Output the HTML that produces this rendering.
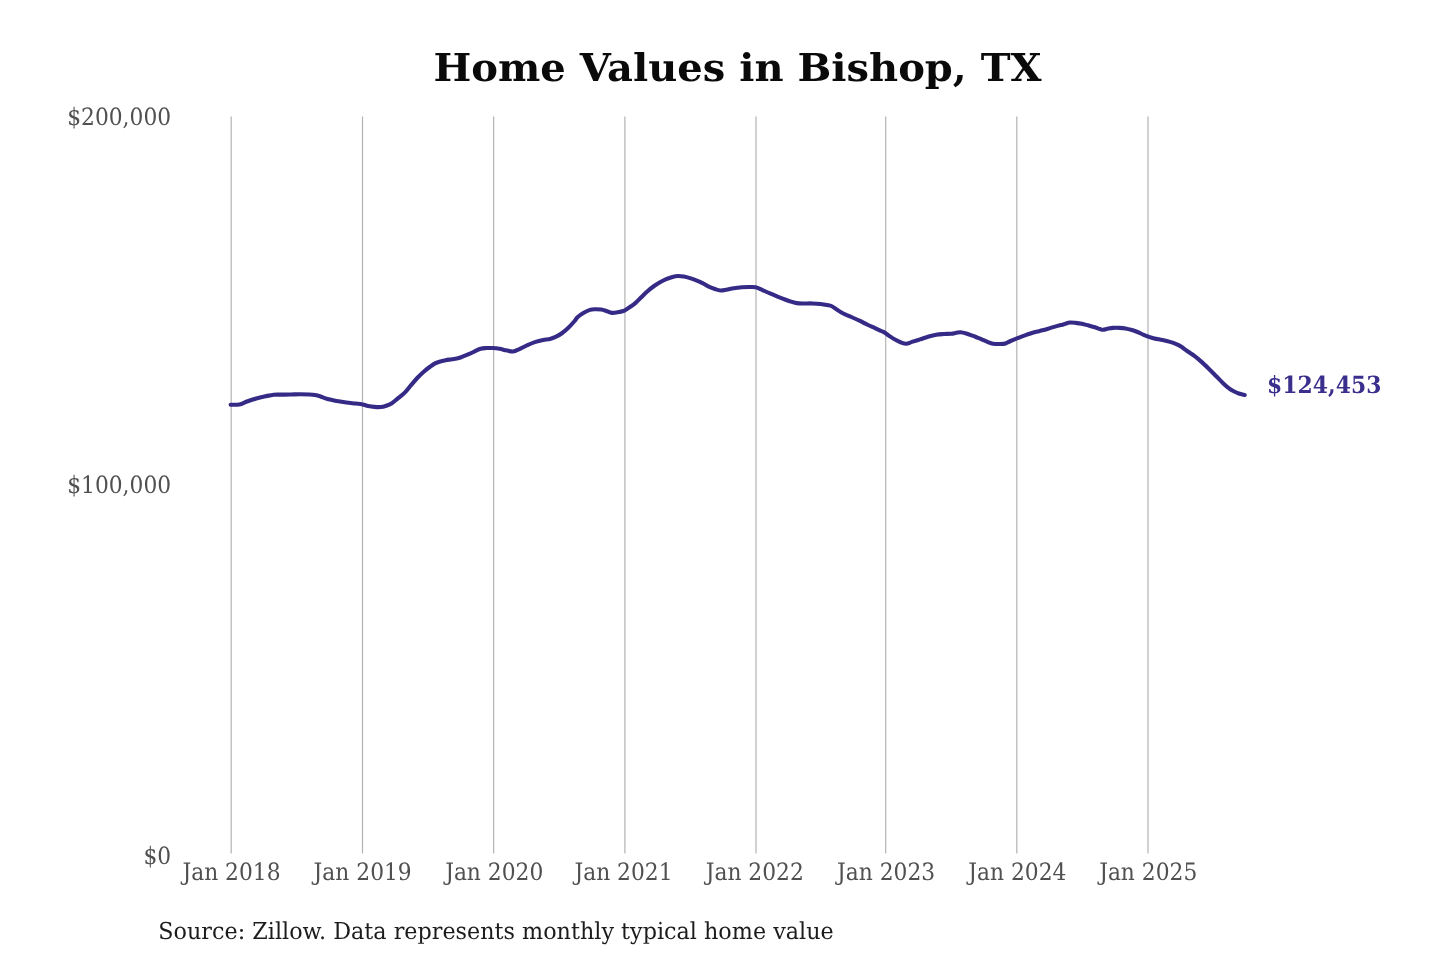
<!DOCTYPE html>
<html lang="en">
<head>
<meta charset="utf-8">
<title>Home Values in Bishop, TX</title>
<style>
html,body{margin:0;padding:0;background:#fff;}
body{width:1440px;height:960px;overflow:hidden;}
svg{display:block;will-change:transform;}
text{font-family:"DejaVu Serif","Liberation Serif",serif;text-rendering:geometricPrecision;}
.grid line{stroke:#b0b0b0;stroke-width:1.15;}
.tick text{font-size:23.9px;fill:#505050;}
.title{font-size:38.3px;font-weight:bold;fill:#0a0a0a;}
.src{font-size:23.3px;fill:#1c1c1c;}
.val{font-size:23.7px;font-weight:bold;fill:#3a2f8c;}
</style>
</head>
<body>
<svg width="1440" height="960" viewBox="0 0 1440 960">
<rect width="1440" height="960" fill="#ffffff"/>
<g class="grid">
<line x1="231.20" y1="116.6" x2="231.20" y2="853.5" />
<line x1="362.50" y1="116.6" x2="362.50" y2="853.5" />
<line x1="493.65" y1="116.6" x2="493.65" y2="853.5" />
<line x1="624.90" y1="116.6" x2="624.90" y2="853.5" />
<line x1="756.00" y1="116.6" x2="756.00" y2="853.5" />
<line x1="885.70" y1="116.6" x2="885.70" y2="853.5" />
<line x1="1016.80" y1="116.6" x2="1016.80" y2="853.5" />
<line x1="1148.00" y1="116.6" x2="1148.00" y2="853.5" />
</g>
<g class="tick">
<text transform="translate(171.10,124.65) scale(0.9117,1)" text-anchor="end">$200,000</text>
<text transform="translate(171.10,492.65) scale(0.9117,1)" text-anchor="end">$100,000</text>
<text transform="translate(171.20,863.50) scale(0.9117,1)" text-anchor="end">$0</text>
<text transform="translate(231.50,879.65) scale(0.9117,1)" text-anchor="middle">Jan 2018</text>
<text transform="translate(362.65,879.65) scale(0.9117,1)" text-anchor="middle">Jan 2019</text>
<text transform="translate(494.20,879.65) scale(0.9117,1)" text-anchor="middle">Jan 2020</text>
<text transform="translate(623.50,879.65) scale(0.9117,1)" text-anchor="middle">Jan 2021</text>
<text transform="translate(754.75,879.65) scale(0.9117,1)" text-anchor="middle">Jan 2022</text>
<text transform="translate(886.10,879.65) scale(0.9117,1)" text-anchor="middle">Jan 2023</text>
<text transform="translate(1017.35,879.65) scale(0.9117,1)" text-anchor="middle">Jan 2024</text>
<text transform="translate(1148.20,879.65) scale(0.9117,1)" text-anchor="middle">Jan 2025</text>
</g>
<text class="title" transform="translate(737.50,80.80) scale(1.045,1)" text-anchor="middle">Home Values in Bishop, TX</text>
<path transform="translate(0,0.65)" d="M230.60,404.06 C232.07,404.01 236.68,404.28 239.40,403.75 C242.12,403.22 244.09,401.89 246.90,400.90 C249.71,399.91 253.13,398.68 256.25,397.80 C259.37,396.92 262.68,396.22 265.60,395.60 C268.52,394.98 271.14,394.33 273.75,394.06 C276.36,393.79 278.44,394.01 281.25,393.98 C284.06,393.95 287.48,393.96 290.60,393.90 C293.73,393.84 296.87,393.60 300.00,393.60 C303.13,393.60 306.90,393.77 309.40,393.90 C311.90,394.03 313.23,394.12 315.00,394.40 C316.77,394.68 317.92,394.93 320.00,395.60 C322.08,396.27 324.68,397.60 327.50,398.40 C330.32,399.20 333.77,399.82 336.90,400.40 C340.02,400.98 343.13,401.48 346.25,401.90 C349.37,402.32 352.89,402.59 355.60,402.90 C358.31,403.21 360.42,403.35 362.50,403.75 C364.58,404.15 366.12,404.88 368.10,405.30 C370.08,405.72 372.32,406.07 374.40,406.25 C376.48,406.43 378.73,406.56 380.60,406.40 C382.47,406.24 383.72,405.95 385.60,405.30 C387.48,404.65 389.82,403.80 391.90,402.50 C393.98,401.20 395.92,399.30 398.10,397.50 C400.28,395.70 402.81,393.91 405.00,391.70 C407.19,389.49 409.17,386.68 411.25,384.25 C413.33,381.82 415.42,379.29 417.50,377.10 C419.58,374.91 421.67,372.93 423.75,371.10 C425.83,369.27 428.12,367.50 430.00,366.10 C431.88,364.70 433.43,363.53 435.00,362.70 C436.57,361.87 437.63,361.62 439.40,361.10 C441.17,360.58 443.52,360.02 445.60,359.60 C447.68,359.18 449.71,358.97 451.90,358.60 C454.09,358.23 456.67,357.97 458.75,357.40 C460.83,356.83 462.42,355.98 464.40,355.20 C466.38,354.42 468.73,353.53 470.60,352.70 C472.47,351.87 473.93,350.98 475.60,350.20 C477.27,349.42 478.83,348.47 480.60,348.00 C482.38,347.53 484.27,347.50 486.25,347.40 C488.23,347.30 490.31,347.28 492.50,347.40 C494.69,347.52 497.11,347.72 499.40,348.10 C501.69,348.48 503.97,349.23 506.25,349.70 C508.53,350.17 510.91,351.12 513.10,350.90 C515.29,350.68 517.00,349.48 519.40,348.40 C521.80,347.32 524.80,345.59 527.50,344.40 C530.20,343.21 533.00,342.08 535.60,341.25 C538.20,340.42 540.70,339.89 543.10,339.40 C545.50,338.91 547.92,338.82 550.00,338.30 C552.08,337.78 553.62,337.20 555.60,336.25 C557.58,335.30 559.82,334.08 561.90,332.60 C563.98,331.12 566.02,329.40 568.10,327.40 C570.18,325.40 572.83,322.40 574.40,320.60 C575.97,318.80 575.94,318.00 577.50,316.60 C579.06,315.20 581.67,313.43 583.75,312.20 C585.83,310.97 588.12,309.80 590.00,309.20 C591.88,308.60 593.12,308.65 595.00,308.60 C596.88,308.55 599.38,308.62 601.25,308.90 C603.12,309.18 604.48,309.75 606.25,310.30 C608.02,310.85 609.82,312.02 611.90,312.20 C613.98,312.38 616.67,311.77 618.75,311.40 C620.83,311.03 622.42,310.92 624.40,310.00 C626.38,309.08 628.78,307.15 630.60,305.90 C632.42,304.65 633.52,304.05 635.30,302.50 C637.07,300.95 639.22,298.58 641.25,296.60 C643.28,294.62 645.42,292.43 647.50,290.60 C649.58,288.77 651.67,287.10 653.75,285.60 C655.83,284.10 657.92,282.80 660.00,281.60 C662.08,280.40 664.17,279.29 666.25,278.40 C668.33,277.51 670.52,276.77 672.50,276.25 C674.48,275.73 676.23,275.36 678.10,275.30 C679.98,275.24 681.77,275.53 683.75,275.90 C685.73,276.27 687.92,276.87 690.00,277.50 C692.08,278.13 694.17,278.87 696.25,279.70 C698.33,280.53 700.42,281.47 702.50,282.50 C704.58,283.53 706.67,284.92 708.75,285.90 C710.83,286.88 713.08,287.75 715.00,288.40 C716.92,289.05 718.42,289.68 720.30,289.80 C722.17,289.92 724.01,289.48 726.25,289.10 C728.49,288.72 731.14,287.92 733.75,287.50 C736.36,287.08 739.40,286.78 741.90,286.60 C744.40,286.42 746.47,286.40 748.75,286.40 C751.03,286.40 753.31,286.10 755.60,286.60 C757.89,287.10 760.10,288.37 762.50,289.40 C764.90,290.43 767.50,291.72 770.00,292.80 C772.50,293.88 774.90,294.85 777.50,295.90 C780.10,296.95 783.20,298.21 785.60,299.10 C788.00,299.99 790.02,300.68 791.90,301.25 C793.78,301.82 795.03,302.24 796.90,302.50 C798.77,302.76 800.50,302.75 803.10,302.80 C805.70,302.85 809.58,302.70 812.50,302.80 C815.42,302.90 818.20,303.13 820.60,303.40 C823.00,303.67 825.02,304.03 826.90,304.40 C828.78,304.77 830.13,304.77 831.90,305.60 C833.67,306.43 835.52,308.15 837.50,309.40 C839.48,310.65 841.35,311.90 843.75,313.10 C846.15,314.30 849.19,315.40 851.90,316.60 C854.61,317.80 857.40,319.05 860.00,320.30 C862.60,321.55 865.00,322.90 867.50,324.10 C870.00,325.30 872.60,326.42 875.00,327.50 C877.40,328.58 880.13,329.77 881.90,330.60 C883.67,331.43 884.18,331.60 885.60,332.50 C887.02,333.40 888.83,334.93 890.40,336.00 C891.97,337.07 893.30,337.97 895.00,338.90 C896.70,339.83 898.73,340.90 900.60,341.60 C902.48,342.30 904.37,343.16 906.25,343.10 C908.13,343.04 909.61,341.98 911.90,341.25 C914.19,340.52 917.19,339.64 920.00,338.75 C922.81,337.86 926.04,336.67 928.75,335.90 C931.46,335.12 933.75,334.52 936.25,334.10 C938.75,333.68 941.25,333.57 943.75,333.40 C946.25,333.23 949.17,333.30 951.25,333.10 C953.33,332.90 954.69,332.45 956.25,332.20 C957.81,331.95 958.93,331.50 960.60,331.60 C962.27,331.70 964.27,332.23 966.25,332.80 C968.23,333.37 970.62,334.30 972.50,335.00 C974.38,335.70 976.04,336.42 977.50,337.00 C978.96,337.58 979.58,337.79 981.25,338.50 C982.92,339.21 985.52,340.48 987.50,341.25 C989.48,342.02 991.02,342.74 993.10,343.10 C995.18,343.46 997.92,343.45 1000.00,343.40 C1002.08,343.35 1003.93,343.27 1005.60,342.80 C1007.27,342.33 1008.12,341.43 1010.00,340.60 C1011.88,339.77 1014.40,338.78 1016.90,337.80 C1019.40,336.82 1022.08,335.73 1025.00,334.70 C1027.92,333.67 1031.48,332.43 1034.40,331.60 C1037.32,330.77 1039.90,330.38 1042.50,329.70 C1045.10,329.02 1047.50,328.25 1050.00,327.50 C1052.50,326.75 1055.42,325.78 1057.50,325.20 C1059.58,324.62 1061.25,324.33 1062.50,324.00 C1063.75,323.67 1063.75,323.55 1065.00,323.20 C1066.25,322.85 1068.23,322.07 1070.00,321.90 C1071.77,321.73 1073.62,322.00 1075.60,322.20 C1077.58,322.40 1079.82,322.68 1081.90,323.10 C1083.98,323.52 1085.92,324.12 1088.10,324.70 C1090.28,325.28 1093.02,325.98 1095.00,326.60 C1096.98,327.22 1098.65,327.98 1100.00,328.40 C1101.35,328.82 1101.85,329.15 1103.10,329.10 C1104.35,329.05 1105.83,328.42 1107.50,328.10 C1109.17,327.78 1111.12,327.35 1113.10,327.20 C1115.08,327.05 1117.32,327.10 1119.40,327.20 C1121.48,327.30 1123.52,327.43 1125.60,327.80 C1127.68,328.17 1129.82,328.77 1131.90,329.40 C1133.98,330.03 1136.12,330.80 1138.10,331.60 C1140.07,332.40 1142.08,333.48 1143.75,334.20 C1145.42,334.92 1146.32,335.30 1148.10,335.90 C1149.88,336.50 1152.00,337.22 1154.40,337.80 C1156.80,338.38 1159.90,338.82 1162.50,339.40 C1165.10,339.97 1167.71,340.58 1170.00,341.25 C1172.29,341.92 1174.48,342.67 1176.25,343.40 C1178.02,344.12 1178.72,344.40 1180.60,345.60 C1182.47,346.80 1185.10,348.90 1187.50,350.60 C1189.90,352.30 1192.71,354.07 1195.00,355.80 C1197.29,357.53 1198.96,358.95 1201.25,361.00 C1203.54,363.05 1206.25,365.67 1208.75,368.10 C1211.25,370.53 1213.86,373.20 1216.25,375.60 C1218.64,378.00 1221.02,380.52 1223.10,382.50 C1225.18,384.48 1226.97,386.15 1228.75,387.50 C1230.53,388.85 1232.08,389.72 1233.75,390.60 C1235.42,391.48 1236.92,392.18 1238.75,392.80 C1240.58,393.42 1243.71,394.05 1244.70,394.30" fill="none" stroke="#352b86" stroke-width="4.1" stroke-linecap="round" stroke-linejoin="round"/>
<text class="val" transform="translate(1267.10,393.05) scale(0.9243,1)" text-anchor="start">$124,453</text>
<text class="src" transform="translate(158.30,939.15) scale(0.9567,1)" text-anchor="start">Source: Zillow. Data represents monthly typical home value</text>
</svg>
</body>
</html>
